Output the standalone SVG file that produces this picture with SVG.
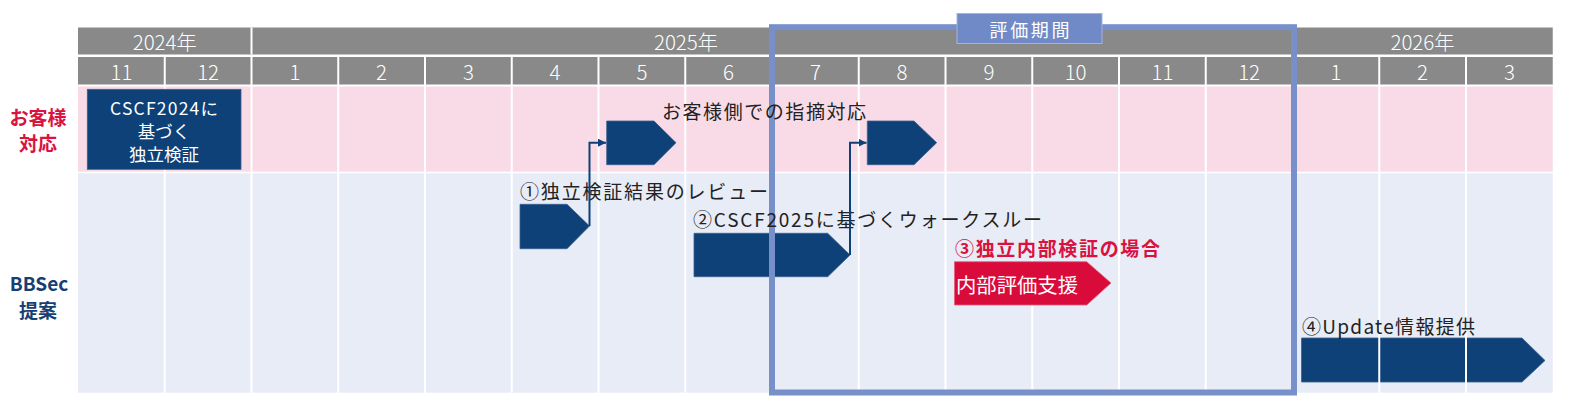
<svg xmlns="http://www.w3.org/2000/svg" width="1569" height="413" viewBox="0 0 1569 413">
<defs>
<style>
text{font-family:"Noto Sans CJK JP","Noto Sans",sans-serif;}
.hd{fill:#898989;}
.ht{fill:#ffffff;font-size:20.5px;font-weight:300;text-anchor:middle;dominant-baseline:central;}
.gl{stroke:#ffffff;stroke-width:2;}
.navy{fill:#0D4177;stroke:#3A5F8E;stroke-width:0.8;}
.red{fill:#D90B3B;stroke:#E0607E;stroke-width:0.8;}
.lbl{font-size:19px;fill:#222222;dominant-baseline:central;}
.side{font-size:19px;font-weight:700;text-anchor:middle;dominant-baseline:central;}
.conn{fill:none;stroke:#0D4177;stroke-width:2;}
</style>
<marker id="ah" viewBox="0 0 10 10" refX="10" refY="5" markerWidth="8" markerHeight="8" markerUnits="userSpaceOnUse" orient="auto">
<path d="M0,0 L10,5 L0,10 z" fill="#0D4177"/>
</marker>
</defs>
<rect width="1569" height="413" fill="#ffffff"/>
<g id="header">
<rect class="hd" x="78" y="27.5" width="1474.75" height="27"/>
<rect class="hd" x="78" y="57" width="1474.75" height="27.5"/>
<line class="gl" x1="251.5" y1="27.5" x2="251.5" y2="54.5"/>
<text class="ht" x="164.75" y="41" textLength="64" lengthAdjust="spacing">2024年</text>
<text class="ht" x="686" y="41" textLength="64" lengthAdjust="spacing">2025年</text>
<text class="ht" x="1422.6" y="41" textLength="64" lengthAdjust="spacing">2026年</text>
<text class="ht" x="121.4" y="71">11</text>
<text class="ht" x="208.1" y="71">12</text>
<text class="ht" x="294.9" y="71">1</text>
<text class="ht" x="381.6" y="71">2</text>
<text class="ht" x="468.4" y="71">3</text>
<text class="ht" x="555.1" y="71">4</text>
<text class="ht" x="641.9" y="71">5</text>
<text class="ht" x="728.6" y="71">6</text>
<text class="ht" x="815.4" y="71">7</text>
<text class="ht" x="902.1" y="71">8</text>
<text class="ht" x="988.9" y="71">9</text>
<text class="ht" x="1075.6" y="71">10</text>
<text class="ht" x="1162.4" y="71">11</text>
<text class="ht" x="1249.1" y="71">12</text>
<text class="ht" x="1335.9" y="71">1</text>
<text class="ht" x="1422.6" y="71">2</text>
<text class="ht" x="1509.4" y="71">3</text>
</g>
<g id="rows">
<rect x="78" y="86.5" width="1474.75" height="85.2" fill="#F9DBE7"/>
<rect x="78" y="173.3" width="1474.75" height="219.4" fill="#E8ECF7"/>
</g>
<g id="side-labels">
<text class="side" x="38" y="116.5" fill="#D9123F">お客様</text>
<text class="side" x="38" y="142.5" fill="#D9123F">対応</text>
<text class="side" x="39" y="282.5" fill="#173F73" font-size="20">BBSec</text>
<text class="side" x="38" y="309" fill="#173F73">提案</text>
</g>
<g id="node-update">
<polygon class="navy" points="1301.5,338 1522,338 1545,360.5 1522,382 1301.5,382"/>
</g>
<g id="gridlines">
<line class="gl" x1="164.75" y1="57" x2="164.75" y2="392.7"/>
<line class="gl" x1="251.5" y1="57" x2="251.5" y2="392.7"/>
<line class="gl" x1="338.25" y1="57" x2="338.25" y2="392.7"/>
<line class="gl" x1="425" y1="57" x2="425" y2="392.7"/>
<line class="gl" x1="511.75" y1="57" x2="511.75" y2="392.7"/>
<line class="gl" x1="598.5" y1="57" x2="598.5" y2="392.7"/>
<line class="gl" x1="685.25" y1="57" x2="685.25" y2="392.7"/>
<line class="gl" x1="772" y1="57" x2="772" y2="392.7"/>
<line class="gl" x1="858.75" y1="57" x2="858.75" y2="392.7"/>
<line class="gl" x1="945.5" y1="57" x2="945.5" y2="392.7"/>
<line class="gl" x1="1032.25" y1="57" x2="1032.25" y2="392.7"/>
<line class="gl" x1="1119" y1="57" x2="1119" y2="392.7"/>
<line class="gl" x1="1205.75" y1="57" x2="1205.75" y2="392.7"/>
<line class="gl" x1="1292.5" y1="57" x2="1292.5" y2="392.7"/>
<line class="gl" x1="1379.25" y1="57" x2="1379.25" y2="392.7"/>
<line class="gl" x1="1466" y1="57" x2="1466" y2="392.7"/>
</g>
<g id="node-cscf2024">
<rect class="navy" x="87.3" y="89.3" width="153.7" height="80"/>
<text x="164" y="107" fill="#ffffff" font-size="17.5" text-anchor="middle" dominant-baseline="central" textLength="108" lengthAdjust="spacing">CSCF2024に</text>
<text x="164" y="130" fill="#ffffff" font-size="17.5" text-anchor="middle" dominant-baseline="central">基づく</text>
<text x="164" y="153.5" fill="#ffffff" font-size="17.5" text-anchor="middle" dominant-baseline="central">独立検証</text>
</g>
<g id="node-review">
<polygon class="navy" points="520,204.3 567,204.3 589.5,226 567,248.7 520,248.7"/>
</g>
<g id="node-feedback1">
<polygon class="navy" points="606.7,121 654,121 676,142.7 654,164.7 606.7,164.7"/>
</g>
<g id="node-walkthrough">
<polygon class="navy" points="694,233.3 827.7,233.3 850,255 827.7,276.7 694,276.7"/>
</g>
<g id="node-feedback2">
<polygon class="navy" points="867.3,121 914,121 936.7,142.7 914,164.7 867.3,164.7"/>
</g>
<g id="node-internal">
<polygon class="red" points="954.5,261.7 1086.7,261.7 1111,283 1086.7,305 954.5,305"/>
<text x="956" y="284.5" fill="#ffffff" font-size="20" dominant-baseline="central" textLength="122" lengthAdjust="spacingAndGlyphs">内部評価支援</text>
</g>
<g id="eval-period">
<rect x="772" y="27.2" width="522" height="365.3" fill="none" stroke="#7790CA" stroke-width="6"/>
<rect x="957" y="13.5" width="145" height="30" fill="#6F8AC6" stroke="#A3B4DD" stroke-width="1"/>
<text x="1029.5" y="29" fill="#ffffff" font-size="18" text-anchor="middle" dominant-baseline="central" textLength="80" lengthAdjust="spacing">評価期間</text>
</g>
<g id="labels">
<text class="lbl" x="662" y="110" textLength="204" lengthAdjust="spacing">お客様側での指摘対応</text>
<text class="lbl" x="520" y="190" textLength="248" lengthAdjust="spacing">①独立検証結果のレビュー</text>
<text class="lbl" x="693" y="218" textLength="349" lengthAdjust="spacing">②CSCF2025に基づくウォークスルー</text>
<text x="955" y="247" fill="#D9123F" font-size="19" font-weight="700" dominant-baseline="central" textLength="205" lengthAdjust="spacing">③独立内部検証の場合</text>
<text class="lbl" x="1302" y="325" textLength="173" lengthAdjust="spacing">④Update情報提供</text>
</g>
<g id="connectors">
<path class="conn" d="M589.5,226 V142.7 H606" marker-end="url(#ah)"/>
<path class="conn" d="M850,255 V142.7 H866.5" marker-end="url(#ah)"/>
</g>
</svg>
